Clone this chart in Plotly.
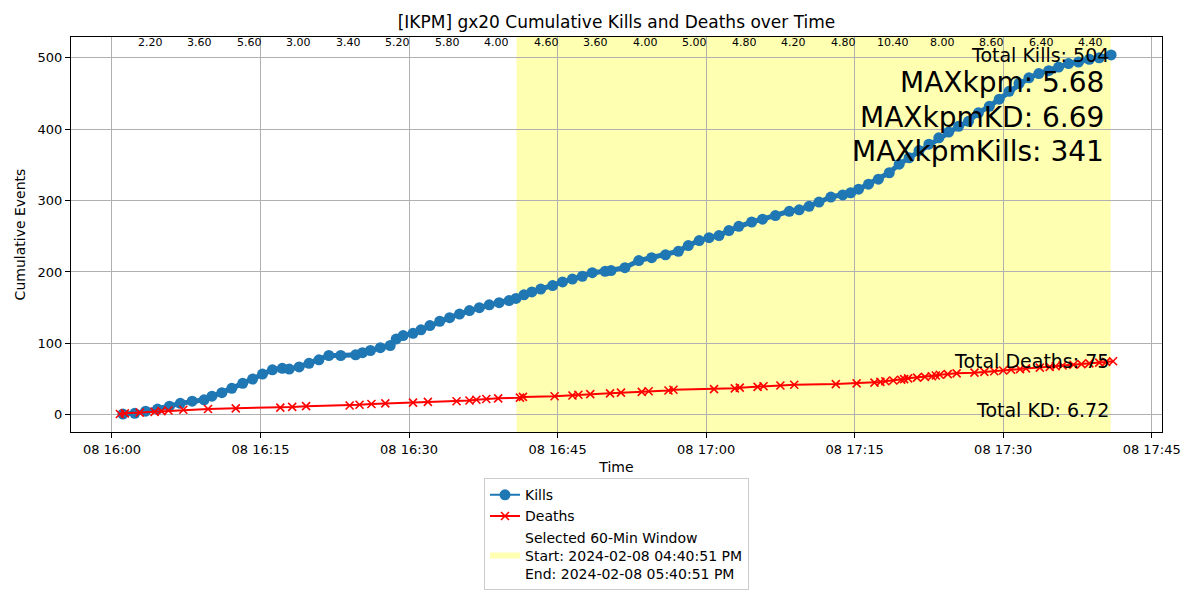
import pandas as pd
import plotly.graph_objects as go

session_start = pd.Timestamp("2024-02-08 16:00:00")
window_start = pd.Timestamp("2024-02-08 16:40:51")
window_end = pd.Timestamp("2024-02-08 17:40:51")

# minutes after 16:00 and running kill total at that moment
kill_minutes = [1.1, 2.3, 3.4, 4.6, 5.8, 6.9, 8.1, 9.3, 10.1, 11.1, 12.1, 13.2, 14.2,
                15.2, 16.2, 17.2, 17.9, 18.9, 19.9, 20.9, 21.9, 23.1, 24.6, 25.3, 26.1, 27.1,
                28.1, 28.7, 29.4, 30.4, 31.2, 32.1, 33.1, 34.1, 35.1, 36.1, 37.1, 38.1,
                39.1, 40.1, 40.8, 41.6, 42.4, 43.3, 44.5, 45.5, 46.5, 47.5, 48.5, 49.8,
                50.4, 51.8, 53.2, 54.5, 55.9, 57.2, 58.2, 59.3, 60.3, 61.3, 62.3, 63.3,
                64.6, 65.7, 67.0, 68.4, 69.4, 70.4, 71.4, 72.6, 73.8, 74.6, 75.4, 76.4,
                77.4, 78.5, 79.5, 80.5, 81.5, 82.5, 83.5, 84.5, 85.5, 86.5, 87.5, 88.6,
                89.6, 90.6, 91.6, 92.6, 93.6, 94.6, 95.6, 96.6, 97.6, 98.7, 99.7, 100.9]
kill_totals = [1, 2, 5, 8, 12, 16, 19, 21, 26, 31, 37, 44, 50,
               57, 63, 65, 64, 67, 72, 77, 83, 83, 84, 87, 90, 94,
               97, 106, 111, 114, 119, 125, 131, 136, 141, 146, 150, 154,
               157, 160, 163, 168, 172, 176, 181, 186, 190, 194, 199, 201,
               202, 206, 216, 220, 224, 229, 237, 244, 248, 251, 258, 264,
               270, 274, 279, 285, 287, 292, 298, 305, 308, 311, 316, 323,
               330, 339, 351, 360, 370, 379, 388, 396, 404, 411, 423, 432,
               442, 453, 464, 472, 478, 482, 487, 492, 494, 498, 500, 504]

death_minutes = [0.8, 1.3, 2.8, 4.3, 5.0, 5.7, 7.2, 9.7, 12.5, 17.0, 18.2, 19.6, 24.0,
                 25.0, 26.2, 27.6, 30.4, 31.9, 34.8, 36.1, 36.8, 37.8, 39.0,
                 41.2, 41.5, 44.7, 46.5, 47.1, 48.3, 50.3, 51.4,
                 53.5, 54.2, 56.2, 56.7, 60.8, 62.9, 63.4, 65.2, 65.8, 67.5, 68.9,
                 73.1, 75.2, 77.0, 77.6, 78.1,
                 78.9, 79.7, 80.0, 80.4, 81.3, 82.1, 82.8, 83.2, 83.6, 84.4, 85.3,
                 87.1, 88.1, 89.1, 90.0, 90.8, 91.7, 92.3, 93.7, 94.7, 95.3, 96.0,
                 97.1, 97.9, 98.7, 99.7, 100.4, 101.1]

# kills per minute in each 5 minute bin (labels along the top)
bin_kpm = [2.20, 3.60, 5.60, 3.00, 3.40, 5.20, 5.80, 4.00, 4.60, 3.60,
           4.00, 5.00, 4.80, 4.20, 4.80, 10.40, 8.00, 8.60, 6.40, 4.40]
first_bin_minute = 1.34

total_kills = 504
total_deaths = 75
total_kd = 6.72
max_kpm = 5.68
max_kpm_kd = 6.69
max_kpm_kills = 341

kill_times = session_start + pd.to_timedelta(kill_minutes, unit="min")
death_times = session_start + pd.to_timedelta(death_minutes, unit="min")
death_totals = list(range(1, len(death_minutes) + 1))
bin_centers = [session_start + pd.Timedelta(minutes=first_bin_minute + 2.5 + 5 * i)
               for i in range(len(bin_kpm))]

FONT = "DejaVu Sans"

fig = go.Figure()
# thick band so the dense kill markers read as one continuous stroke
fig.add_trace(go.Scatter(x=kill_times, y=kill_totals, mode="lines", showlegend=False,
                         line=dict(color="#1f77b4", width=5), hoverinfo="skip"))
fig.add_trace(go.Scatter(x=kill_times, y=kill_totals, mode="lines+markers", name="Kills",
                         line=dict(color="#1f77b4", width=2),
                         marker=dict(symbol="circle", size=11, color="#1f77b4")))
fig.add_trace(go.Scatter(x=death_times, y=death_totals, mode="lines+markers", name="Deaths",
                         line=dict(color="red", width=2),
                         marker=dict(symbol="x-thin", size=8, line=dict(color="red", width=1.6))))
fig.add_trace(go.Scatter(x=[None], y=[None], mode="none", fill="toself",
                         fillcolor="rgba(255,255,0,0.3)",
                         name="Selected 60-Min Window<br>Start: "
                              + window_start.strftime("%Y-%m-%d %I:%M:%S %p")
                              + "<br>End: " + window_end.strftime("%Y-%m-%d %I:%M:%S %p")))

fig.add_shape(type="rect", xref="x", yref="paper", x0=window_start, x1=window_end,
              y0=0, y1=1, fillcolor="rgba(255,255,0,0.3)", line=dict(width=0), layer="below")

for t, v in zip(bin_centers, bin_kpm):
    fig.add_annotation(x=t, y=0.987, xref="x", yref="paper", text=f"{v:.2f}",
                       showarrow=False, font=dict(size=11, color="black"), yanchor="middle")

last_time = kill_times[-1]
fig.add_annotation(x=last_time, y=total_kills, text=f"Total Kills: {total_kills}",
                   showarrow=False, xanchor="right", yanchor="middle", font=dict(size=19))
fig.add_annotation(x=last_time, y=total_deaths, text=f"Total Deaths: {total_deaths}",
                   showarrow=False, xanchor="right", yanchor="middle", font=dict(size=19))
fig.add_annotation(x=last_time, y=total_kd, text=f"Total KD: {total_kd:.2f}",
                   showarrow=False, xanchor="right", yanchor="middle", font=dict(size=19))
for yy, txt in [(0.886, f"MAXkpm: {max_kpm:.2f}"), (0.797, f"MAXkpmKD: {max_kpm_kd:.2f}"),
                (0.709, f"MAXkpmKills: {max_kpm_kills}")]:
    fig.add_annotation(x=0.949, y=yy, xref="paper", yref="paper", text=txt, showarrow=False,
                       xanchor="right", yanchor="middle", font=dict(size=28))

axis_style = dict(showline=True, linecolor="black", linewidth=1, mirror=True,
                  ticks="outside", ticklen=5, tickcolor="black", showgrid=True,
                  gridcolor="#b0b0b0", gridwidth=1, zeroline=False,
                  tickfont=dict(size=13, color="black"))

fig.update_xaxes(**axis_style, type="date",
                 range=[session_start - pd.Timedelta(minutes=4.14),
                        session_start + pd.Timedelta(minutes=106.04)],
                 tick0=session_start, dtick=15 * 60 * 1000, tickformat="%d %H:%M",
                 title=dict(text="Time", font=dict(size=14), standoff=6))
fig.update_yaxes(**axis_style, range=[-24.15, 529.15], dtick=100,
                 title=dict(text="Cumulative Events", font=dict(size=14), standoff=8))

# the page body adds 8px on the left and top, so the margins are trimmed by that much
fig.update_layout(
    width=1200, height=600,
    margin=dict(l=63, r=46, t=29, b=176),
    paper_bgcolor="white", plot_bgcolor="white",
    font=dict(family=FONT, color="black"),
    title=dict(text="[IKPM] gx20 Cumulative Kills and Deaths over Time",
               x=(63 + 1091 / 2) / 1200, xanchor="center", y=1 - 14 / 600, yanchor="middle",
               font=dict(size=17)),
    showlegend=True,
    legend=dict(x=0.5, xanchor="center", y=-0.117, yanchor="top",
                bordercolor="#cccccc", borderwidth=1, bgcolor="white",
                font=dict(size=14), valign="middle", tracegroupgap=2),
)

fig.write_html("out.html")
